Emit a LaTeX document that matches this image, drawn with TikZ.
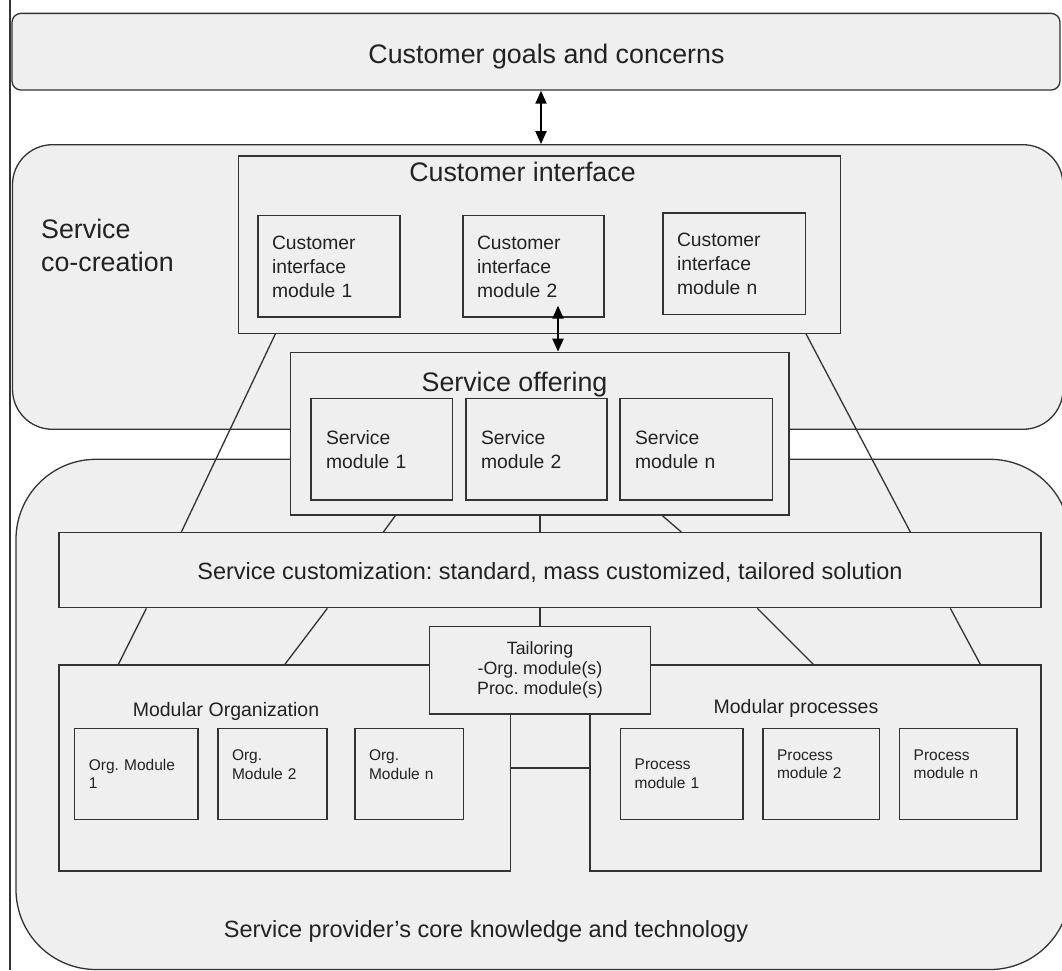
\documentclass[tikz,border=0pt]{standalone}
\usepackage{fontspec}
\setmainfont{Liberation Sans}
\usepackage{tikz}
\usetikzlibrary{arrows.meta}
\usetikzlibrary{calc}

\definecolor{boxgray}{HTML}{EFEFEF}
\definecolor{linegray}{HTML}{333333}
\definecolor{textgray}{HTML}{222222}

\frenchspacing

\begin{document}
\begin{tikzpicture}[x=1pt, y=-1pt, line width=1.3pt,
        panel_style/.style={draw=linegray, fill=boxgray, inner sep=0pt},
        box_style/.style={draw=linegray, fill=boxgray, inner sep=0pt, text=textgray},
        module_style/.style={draw=linegray, fill=boxgray, align=left, inner xsep=14pt, inner ysep=0pt, text=textgray, font=\fontsize{19.3}{24}\selectfont},
        small_module_style/.style={module_style, font=\fontsize{15.5}{18.5}\selectfont},
        raised_style/.style={text depth=37.5pt},
        title_style/.style={inner sep=0pt, anchor=base, text=textgray, font=\fontsize{26.8}{33.5}\selectfont},
        label_style/.style={inner sep=0pt, anchor=base, text=textgray, font=\fontsize{23.5}{28}\selectfont},
        sub_title_style/.style={inner sep=0pt, anchor=base, text=textgray, font=\fontsize{19.5}{23}\selectfont},
        edge_style/.style={draw=linegray, line width=1.3pt},
        arrow_style/.style={draw=black, line width=2.2pt, {Triangle[length=13pt,width=11pt]}-{Triangle[length=13pt,width=11pt]}}]

        \useasboundingbox (0,0) rectangle (1062,970);

        \draw [edge_style] (10,0) -- (10,970);

        % customer side
        \node [panel_style, rounded corners=9pt, minimum width=1048pt, minimum height=76.7pt] (goals) at (536,51.7) {};

        \node [title_style] (goals_text) at (546.5,63.3) {Customer goals and concerns};

        \node [panel_style, rounded corners=40pt, minimum width=1050.5pt, minimum height=284.6pt] (cocreation) at (537.75,287) {};

        \node [inner sep=0pt, anchor=north west, align=left, text=textgray, font=\fontsize{26.8}{33.5}\selectfont] (cocreation_text) at (40.5,218) {Service\\co-creation};

        \node [panel_style, rounded corners=80pt, minimum width=1054pt, minimum height=510.2pt] (core) at (543,714.4) {};

        \node [label_style] (core_text) at (486,937) {Service provider’s core knowledge and technology};

        % customer interface
        \node [box_style, minimum width=602pt, minimum height=177.3pt] (ci) at (539.7,244.65) {};

        \node [title_style] (ci_text) at (522.5,181) {Customer interface};

        \node [module_style, text width=114pt, minimum height=101.3pt] (ci_m1) at (329,266.35) {Customer\\interface\\module 1};

        \node [module_style, text width=113pt, minimum height=101.3pt] (ci_m2) at (533.5,266.35) {Customer\\interface\\module 2};

        \node [module_style, text width=114.3pt, minimum height=101.3pt] (ci_mn) at (734.15,263.65) {Customer\\interface\\module n};

        % service offering
        \node [box_style, minimum width=498.3pt, minimum height=162.7pt] (offering) at (539.85,433.65) {};

        \node [title_style] (offering_text) at (514.5,391.7) {Service offering};

        \node [module_style, inner xsep=15pt, text width=111.3pt, minimum height=101.7pt] (so_m1) at (381.65,449.15) {Service\\module 1};

        \node [module_style, inner xsep=15pt, text width=111pt, minimum height=101.7pt] (so_m2) at (536.5,449.15) {Service\\module 2};

        \node [module_style, inner xsep=15pt, text width=122.7pt, minimum height=101.7pt] (so_mn) at (696.35,449.15) {Service\\module n};

        % customization
        \node [box_style, minimum width=982pt, minimum height=75pt] (custom) at (550,570.2) {};

        \node [label_style] (custom_text) at (550,579.3) {Service customization: standard, mass customized, tailored solution};

        % organization and processes
        \node [box_style, minimum width=451.3pt, minimum height=206pt] (org) at (284.65,768) {};

        \node [sub_title_style] (org_text) at (226,716.5) {Modular Organization};

        \node [small_module_style, text width=95.2pt, minimum height=91.2pt] (org_m1) at (136.4,773.9) {Org. Module\\1};

        \node [small_module_style, raised_style, text width=81pt, minimum height=91.2pt] (org_m2) at (272.5,773.9) {Org.\\Module 2};

        \node [small_module_style, raised_style, text width=80.3pt, minimum height=91.2pt] (org_mn) at (409.15,773.9) {Org.\\Module n};

        \node [box_style, minimum width=451pt, minimum height=206pt] (proc) at (815.5,768) {};

        \node [sub_title_style] (proc_text) at (796,713.5) {Modular processes};

        \node [small_module_style, text width=94.3pt, minimum height=91.2pt] (proc_m1) at (681.85,773.9) {Process\\module 1};

        \node [small_module_style, raised_style, text width=88.7pt, minimum height=91.2pt] (proc_m2) at (821.35,773.9) {Process\\module 2};

        \node [small_module_style, raised_style, text width=89.3pt, minimum height=91.2pt] (proc_mn) at (958.35,773.9) {Process\\module n};

        \node [box_style, align=center, minimum width=221.4pt, minimum height=87.3pt, font=\fontsize{17.8}{20}\selectfont] (tailor) at (540,670.35) {Tailoring\\-Org. module(s)\\Proc. module(s)};

        % connectors
        \draw [edge_style] ([xshift=37.3pt]ci.south west) -- ([xshift=123pt]custom.north west);

        \draw [edge_style] ([xshift=568pt]ci.south west) -- ([xshift=852pt]custom.north west);

        \draw [edge_style] ([xshift=105.3pt]offering.south west) -- ([xshift=325pt]custom.north west);

        \draw [edge_style] (offering.south) -- (offering.south |- custom.north);

        \draw [edge_style] ([xshift=372.3pt]offering.south west) -- ([xshift=623pt]custom.north west);

        \draw [edge_style] ([xshift=88pt]custom.south west) -- ([xshift=60pt]org.north west);

        \draw [edge_style] ([xshift=269pt]custom.south west) -- ([xshift=226.5pt]org.north west);

        \draw [edge_style] ([xshift=699pt]custom.south west) -- ([xshift=224pt]proc.north west);

        \draw [edge_style] ([xshift=892pt]custom.south west) -- ([xshift=391pt]proc.north west);

        \draw [edge_style] (tailor.north |- custom.south) -- (tailor.north);

        \draw [edge_style] (org.east) -- (proc.west);

        \draw [arrow_style] ([xshift=5pt]goals.south) -- ([xshift=3.25pt]cocreation.north);

        \draw [arrow_style] ([xshift=24.5pt,yshift=12pt]ci_m2.south) -- ([xshift=18.15pt]offering.north);

\end{tikzpicture}
\end{document}
